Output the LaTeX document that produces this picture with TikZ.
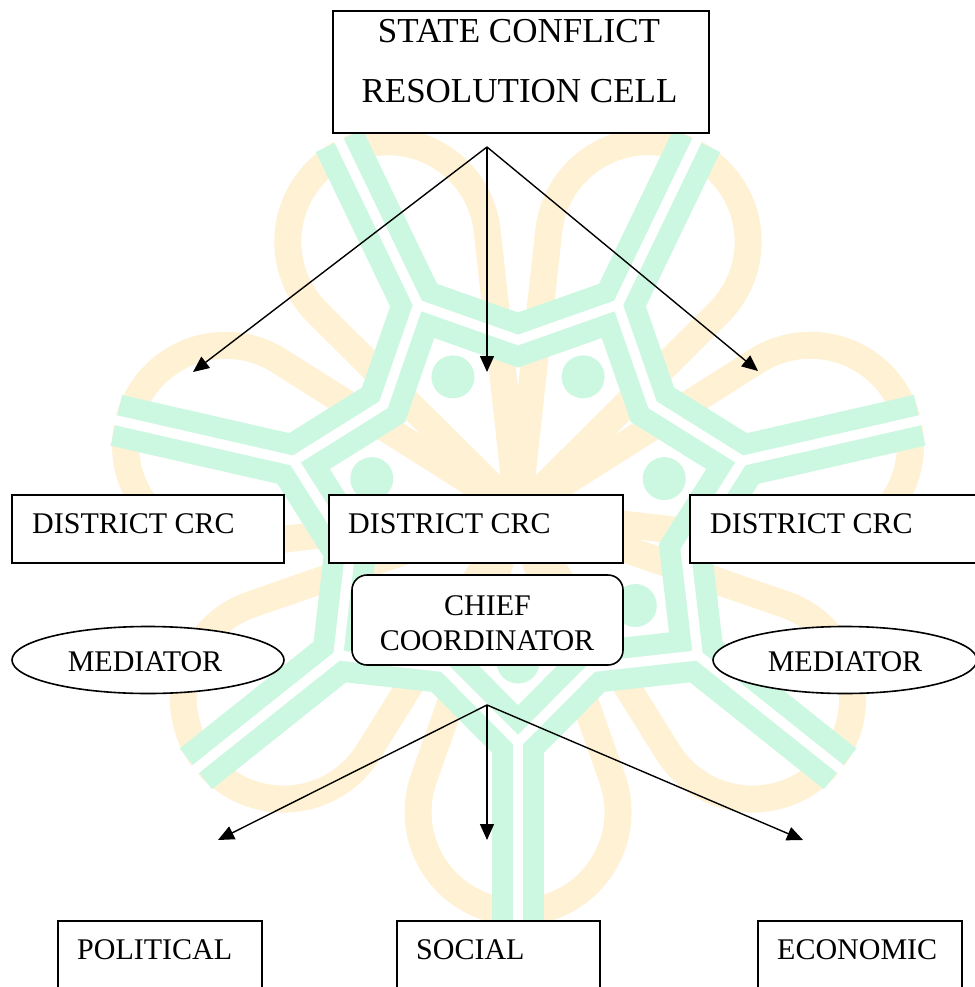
\documentclass[tikz,border=0pt]{standalone}
\usepackage{fontspec}
\setmainfont{Liberation Serif}
\usetikzlibrary{arrows.meta,shapes.geometric}
\definecolor{wmy}{RGB}{255,241,212}
\definecolor{wmg}{RGB}{204,248,226}
\newcommand\fsz[1]{\fontsize{#1}{#1}\selectfont}
\tikzset{
  box/.style={draw, line width=1.6pt, fill=white, inner sep=0pt, rectangle},
  rbox/.style={box, rounded corners=15pt},
  oval/.style={draw, line width=1.6pt, fill=white, inner sep=0pt, ellipse},
  lbl/.style={anchor=base, inner sep=0pt, font=\fsz{30}},
  lblw/.style={lbl, anchor=base west},
  conn/.style={line width=1.4pt, -{Triangle[length=16pt,width=14pt]}},
  petal/.style={draw=wmy, line width=27pt, line join=round},
  gband/.style={draw=wmg, line width=52pt, line join=miter},
  ggap/.style={draw=white, line width=10pt, line join=miter},
}
\begin{document}
\begin{tikzpicture}[x=1pt,y=1pt]
\useasboundingbox (0,0) rectangle (974,-987);
\fill[white] (0,0) rectangle (974,-987);
% ---------- watermark ----------
\begin{scope}[shift={(518,-512)}]
  \foreach \k in {0,...,6} {
    \begin{scope}[rotate={-90+51.4286*\k}]
      \draw[petal] (0,0) -- (266.7,94.3) arc[start angle=109.47, end angle=-109.47, radius=100] -- cycle;
    \end{scope}
  }
  \path[gband] (-90:230) -- (-64.286:172) -- (-38.571:230) -- (-12.857:172) -- (12.857:230) -- (38.571:172) -- (64.286:230) -- (90:172) -- (115.714:230) -- (141.429:172) -- (167.143:230) -- (192.857:172) -- (218.571:230) -- (244.286:172) -- cycle;
  \foreach \a in {-90,-38.571,12.857,64.286,115.714,167.143,218.571} {
    \path[gband] (\a:230) -- (\a:412);
  }
  \path[ggap] (-90:230) -- (-64.286:172) -- (-38.571:230) -- (-12.857:172) -- (12.857:230) -- (38.571:172) -- (64.286:230) -- (90:172) -- (115.714:230) -- (141.429:172) -- (167.143:230) -- (192.857:172) -- (218.571:230) -- (244.286:172) -- cycle;
  \foreach \a in {-90,-38.571,12.857,64.286,115.714,167.143,218.571} {
    \path[ggap] (\a:230) -- (\a:420);
    \fill[wmg] (\a:150) circle (21.5);
  }
\end{scope}
% ---------- boxes ----------
\node[box, minimum width=376pt, minimum height=122pt] (scrc) at (521,-72) {};
\node[lbl, font=\fsz{35}] (scrct1) at (519,-43) {STATE CONFLICT};
\node[lbl, font=\fsz{35}] (scrct2) at (519.5,-103) {RESOLUTION CELL};

\node[box, minimum width=272pt, minimum height=68pt] (dl) at (148,-529) {};
\node[box, minimum width=294pt, minimum height=68pt] (dm) at (476,-529) {};
\node[box, minimum width=300pt, minimum height=68pt] (dr) at (840,-529) {};
\node[lblw] (dlt) at (32,-533) {DISTRICT CRC};
\node[lblw] (dmt) at (348,-533) {DISTRICT CRC};
\node[lblw] (drt) at (710,-533) {DISTRICT CRC};

\node[rbox, minimum width=271pt, minimum height=90pt] (chief) at (487.5,-620) {};
\node[lbl] (chieft1) at (487.5,-615) {CHIEF};
\node[lbl] (chieft2) at (487,-650) {COORDINATOR};

\node[oval, minimum width=272pt, minimum height=67pt] (ml) at (148,-660) {};
\node[oval, minimum width=264pt, minimum height=67pt] (mr) at (845,-660) {};
\node[lbl] (mlt) at (145,-671) {MEDIATOR};
\node[lbl] (mrt) at (845,-671) {MEDIATOR};

\node[box, minimum width=204pt, minimum height=80pt] (pol) at (160,-961) {};
\node[box, minimum width=203pt, minimum height=80pt] (soc) at (498.5,-961) {};
\node[box, minimum width=204pt, minimum height=80pt] (eco) at (860,-961) {};
\node[lblw] (polt) at (77,-959) {POLITICAL};
\node[lblw] (soct) at (416,-959) {SOCIAL};
\node[lblw] (ecot) at (777,-959) {ECONOMIC};

% ---------- connectors ----------
\coordinate (s1) at (487,-147);
\coordinate (d1) at (193,-372);
\coordinate (d2) at (487,-372);
\coordinate (d3) at (758,-371);
\draw[conn] (s1) -- (d1);
\draw[conn] (s1) -- (d2);
\draw[conn] (s1) -- (d3);
\coordinate (s2) at (487,-705);
\coordinate (e1) at (218,-840);
\coordinate (e2) at (487,-840);
\coordinate (e3) at (803,-840);
\draw[conn] (s2) -- (e1);
\draw[conn] (s2) -- (e2);
\draw[conn] (s2) -- (e3);
\end{tikzpicture}
\end{document}
